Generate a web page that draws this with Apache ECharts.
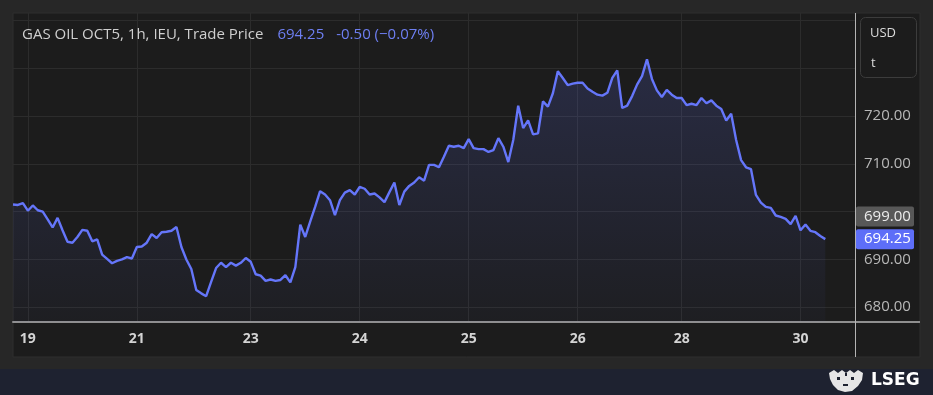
<!DOCTYPE html>
<html><head><meta charset="utf-8">
<script src="https://cdn.jsdelivr.net/npm/echarts@6/dist/echarts.min.js"></script>
<style>html,body{margin:0;padding:0;background:#272727;}#c{width:933px;height:395px;}</style>
</head><body><div id="c"></div>
<script>
// ---- data (hourly trade prices) ----
const slotCount = 171; // hourly slots shown on the axis (data fills the first ones)
const prices = [
701.5,701.4,701.8,700.2,701.3,700.3,700.0,698.4,696.7,698.7,
696.1,693.7,693.5,694.7,696.2,696.0,693.8,694.2,691.0,690.1,
689.2,689.7,690.0,690.5,690.2,692.6,692.7,693.5,695.3,694.5,
695.7,695.8,696.0,696.8,692.6,690.0,688.0,683.6,682.9,682.3,
685.3,688.2,689.3,688.4,689.3,688.7,689.3,690.3,689.5,686.9,
686.6,685.5,685.8,685.5,685.7,686.7,685.2,688.4,697.3,694.7,
697.9,701.0,704.3,703.6,702.4,699.3,702.4,704.0,704.5,703.6,
705.2,704.8,703.6,703.8,703.0,702.0,704.1,706.1,701.4,704.2,
705.4,706.1,707.2,706.5,709.8,709.8,709.3,711.5,713.8,713.6,
713.8,713.3,715.2,713.3,713.1,713.1,712.5,712.9,715.4,713.6,
710.4,715.0,722.2,717.5,719.1,716.2,716.4,723.1,722.0,724.8,
729.4,728.0,726.5,726.8,727.0,727.0,725.8,725.1,724.5,724.3,
724.9,728.0,729.6,721.7,722.2,724.2,726.6,728.4,731.9,727.8,
725.4,724.0,725.5,724.5,723.8,723.8,722.3,722.6,722.3,723.8,
722.7,723.3,722.2,721.5,719.1,720.5,715.0,710.8,709.3,708.9,
703.5,701.9,701.0,700.8,699.2,698.9,698.5,697.4,699.1,696.1,
697.3,696.0,695.7,694.9,694.25
];
const tickIndex  = [3, 25, 48, 70, 92, 114, 135, 159];
const tickLabels = ['19','21','23','24','25','26','28','30'];
const yLabelValues = [680, 690, 710, 720];
const yMin = 676.9, yMax = 741.6;
const prevClose = 699.00;
const lastPrice = 694.25;
const titleName = 'GAS OIL OCT5, 1h, IEU, Trade Price';
const titlePrice = '694.25';
const titleChange = '-0.50 (\u22120.07%)';
const unitTop = 'USD', unitBottom = 't';

const slots = Array.from({length: slotCount}, (_, i) => String(i));
const FONT = 'Open Sans';
const chart = echarts.init(document.getElementById('c'), null, {renderer: 'canvas'});

function frameGraphics(extra) {
  const g = [
    {type:'rect', z:-10, silent:true, shape:{x:13,y:13,width:907,height:344}, style:{fill:'#1c1c1c', stroke:'#2e2e2e', lineWidth:1}},
    {type:'rect', z:-10, silent:true, shape:{x:0,y:369,width:933,height:26}, style:{fill:'#1e2230'}},
    {type:'line', z:50, silent:true, shape:{x1:855,y1:322,x2:920,y2:322}, style:{stroke:'#8f8f8f', lineWidth:2}},
    {type:'line', z:50, silent:true, shape:{x1:855.5,y1:13,x2:855.5,y2:357}, style:{stroke:'#b4b4b4', lineWidth:1}},
    {type:'rect', z:50, silent:true, shape:{x:860.5,y:17.5,width:56,height:60,r:5}, style:{fill:'#1c1c1c', stroke:'#3c3c3c', lineWidth:1}},
    {type:'text', z:51, silent:true, style:{x:870,y:33,text:unitTop,fill:'#dcdcdc',font:'13px "Open Sans"',textVerticalAlign:'middle'}},
    {type:'text', z:51, silent:true, style:{x:871,y:63,text:unitBottom,fill:'#dcdcdc',font:'13px "Open Sans"',textVerticalAlign:'middle'}},
    {type:'polygon', z:51, silent:true, shape:{points:[[829,373],[834,370],[838,373],[842,370],[846,373],[850,370],[854,373],[858,370],[863,373],[862,380],[858,386],[852,391],[845,392],[838,390],[833,385],[830,379]]}, style:{fill:'#e6e6e6'}},
    {type:'rect', z:52, silent:true, shape:{x:837,y:377,width:3,height:3}, style:{fill:'#1e2230'}},
    {type:'rect', z:52, silent:true, shape:{x:851,y:377,width:3,height:3}, style:{fill:'#1e2230'}},
    {type:'rect', z:52, silent:true, shape:{x:843,y:384,width:5,height:2}, style:{fill:'#1e2230'}},
    {type:'rect', z:52, silent:true, shape:{x:845,y:373,width:2,height:3}, style:{fill:'#1e2230'}},
    {type:'text', z:51, silent:true, style:{x:871,y:381,text:'LSEG',fill:'#ffffff',font:'bold 17px "DejaVu Sans"',textVerticalAlign:'middle'}}
  ];
  return g.concat(extra || []);
}

chart.setOption({
  animation: false,
  backgroundColor: '#272727',
  title: {
    left: 17, top: 22,
    text: '{a|' + titleName + '}{b|' + titlePrice + '}{c|' + titleChange + '}',
    textStyle: {
      fontWeight: 'normal',
      rich: {
        a: {color:'#cfcfcf', fontSize:15, fontFamily:FONT, fontWeight:'normal'},
        b: {color:'#6e7ff2', fontSize:15, fontFamily:FONT, fontWeight:'normal', padding:[0,0,0,14]},
        c: {color:'#6e7ff2', fontSize:15, fontFamily:FONT, fontWeight:'normal', padding:[0,0,0,12]}
      }
    }
  },
  grid: {left:13, right:78, top:13, bottom:73, containLabel:false},
  xAxis: {
    type: 'category',
    data: slots,
    boundaryGap: false,
    axisLine: {show:true, lineStyle:{color:'#8f8f8f', width:2}},
    axisTick: {show:false},
    axisLabel: {
      interval: (i) => tickIndex.includes(i),
      formatter: (v, i) => { const k = tickIndex.indexOf(Number(v)); return k >= 0 ? tickLabels[k] : ''; },
      color:'#d4d4d4', fontWeight:'bold', fontSize:14, fontFamily:FONT, margin:10
    },
    splitLine: {show:true, interval: (i) => tickIndex.includes(i), lineStyle:{color:'#2c2c2c', width:1}}
  },
  yAxis: {
    type: 'value',
    position: 'right',
    min: yMin, max: yMax,
    minInterval: 10, maxInterval: 10,
    axisLine: {show:false},
    axisTick: {show:false},
    axisLabel: {
      formatter: (v) => yLabelValues.includes(Math.round(v * 100) / 100) ? v.toFixed(2) : '',
      color:'#b8b8b8', fontSize:15, fontFamily:FONT, margin:9
    },
    splitLine: {show:true, showMinLine:false, showMaxLine:false, lineStyle:{color:'#2c2c2c', width:1}}
  },
  series: [{
    type: 'line',
    data: prices,
    symbol: 'none',
    lineStyle: {color:'#6576fa', width:2.4},
    areaStyle: {
      color: new echarts.graphic.LinearGradient(0, 0, 0, 1, [
        {offset:0, color:'rgba(99,115,247,0.26)'},
        {offset:1, color:'rgba(99,115,247,0.04)'}
      ])
    },
    z: 5
  }],
  graphic: frameGraphics()
});

const yPrev = chart.convertToPixel({yAxisIndex:0}, prevClose);
const yLast = chart.convertToPixel({yAxisIndex:0}, lastPrice);
chart.setOption({
  graphic: frameGraphics([
    {type:'rect', z:60, silent:true, shape:{x:856,y:yPrev-10,width:58,height:20,r:2}, style:{fill:'#585858'}},
    {type:'text', z:61, silent:true, style:{x:864,y:yPrev,text:prevClose.toFixed(2),fill:'#ececec',font:'15px "Open Sans"',textVerticalAlign:'middle'}},
    {type:'rect', z:60, silent:true, shape:{x:856,y:yLast-10,width:58,height:20,r:2}, style:{fill:'#5d6ef8'}},
    {type:'text', z:61, silent:true, style:{x:864,y:yLast,text:lastPrice.toFixed(2),fill:'#ffffff',font:'15px "Open Sans"',textVerticalAlign:'middle'}}
  ])
}, {replaceMerge:['graphic']});
</script>
</body></html>
